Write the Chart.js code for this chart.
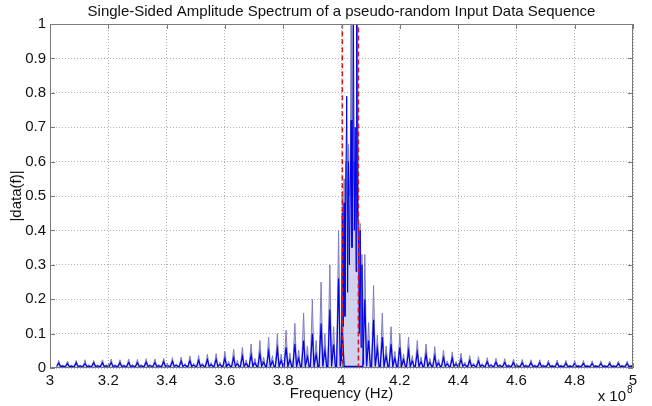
<!DOCTYPE html>
<html>
<head>
<meta charset="utf-8">
<script src="https://cdn.jsdelivr.net/npm/chart.js@4.4.0/dist/chart.umd.min.js"></script>
<style>
body { margin: 0; background: #fff; }
</style>
</head>
<body>
<canvas id="spectrum" width="652" height="406"></canvas>
<script>
// frequency axis is in units of 1e8 Hz
var spikeFreq = [3.03, 3.06, 3.09, 3.12, 3.15, 3.18, 3.21, 3.24, 3.27, 3.30, 3.33, 3.36, 3.39, 3.42, 3.45, 3.48, 3.51,
	3.54, 3.57, 3.60, 3.63, 3.66, 3.69, 3.72, 3.75, 3.78, 3.81, 3.84, 3.87, 3.90, 3.93, 3.96, 3.99,
	4.08, 4.11, 4.14, 4.17, 4.20, 4.23, 4.26, 4.29, 4.32, 4.35, 4.38, 4.41, 4.44, 4.47, 4.50, 4.53,
	4.56, 4.59, 4.62, 4.65, 4.68, 4.71, 4.74, 4.77, 4.80, 4.83, 4.86, 4.89, 4.92, 4.95, 4.98];
var lavPeak = [0.022, 0.02, 0.022, 0.024, 0.022, 0.024, 0.026, 0.024, 0.026, 0.025, 0.027, 0.026, 0.028, 0.03, 0.032, 0.035, 0.036,
	0.04, 0.042, 0.048, 0.055, 0.06, 0.07, 0.08, 0.09, 0.1, 0.11, 0.13, 0.16, 0.2, 0.25, 0.3, 0.4,
	0.33, 0.24, 0.16, 0.12, 0.1, 0.09, 0.08, 0.07, 0.062, 0.052, 0.047, 0.043, 0.036, 0.033, 0.03, 0.028,
	0.027, 0.026, 0.025, 0.024, 0.024, 0.023, 0.023, 0.022, 0.022, 0.022, 0.021, 0.021, 0.02, 0.02, 0.02];
var bluePeak = [0.014, 0.013, 0.015, 0.013, 0.015, 0.015, 0.016, 0.015, 0.016, 0.015, 0.017, 0.016, 0.018, 0.019, 0.02, 0.021, 0.022,
	0.024, 0.025, 0.028, 0.03, 0.034, 0.038, 0.042, 0.048, 0.055, 0.06, 0.07, 0.08, 0.1, 0.13, 0.17, 0.26,
	0.2, 0.14, 0.09, 0.07, 0.06, 0.05, 0.045, 0.04, 0.035, 0.03, 0.028, 0.025, 0.022, 0.02, 0.018, 0.017,
	0.016, 0.016, 0.015, 0.015, 0.015, 0.014, 0.014, 0.014, 0.013, 0.013, 0.013, 0.013, 0.013, 0.013, 0.013];

var centerFreq = [4.000, 4.003, 4.006, 4.009, 4.012, 4.015, 4.018, 4.021, 4.024, 4.027, 4.030, 4.033, 4.036, 4.039,
	4.041, 4.044, 4.047, 4.050, 4.052, 4.055, 4.058, 4.061, 4.064, 4.067, 4.070, 4.073, 4.076];
var centerLav = [0.03, 0.5, 0.3, 0.55, 0.35, 0.6, 0.5, 0.45, 0.65, 0.5, 0.55, 1.05, 0.5, 0.55,
	0.6, 0.5, 0.6, 0.5, 0.6, 1.05, 0.45, 0.35, 0.42, 0.25, 0.33, 0.15, 0.02];
var centerBlue = [0.02, 0.45, 0.12, 0.48, 0.15, 0.55, 0.79, 0.22, 0.6, 0.3, 0.5, 0.72, 0.35, 0.6,
	1.05, 0.4, 0.7, 0.28, 1.05, 0.45, 0.38, 0.1, 0.4, 0.06, 0.3, 0.1, 0.01];

var maskFreq = [3, 4.003, 4.003, 4.058, 4.058, 5];
var maskAmp = [0, 0, 1, 1, 0, 0];

var xTicks = [3, 3.2, 3.4, 3.6, 3.8, 4, 4.2, 4.4, 4.6, 4.8, 5];
var xLabels = ['3', '3.2', '3.4', '3.6', '3.8', '4', '4.2', '4.4', '4.6', '4.8', '5'];
var yTicks = [0, 0.1, 0.2, 0.3, 0.4, 0.5, 0.6, 0.7, 0.8, 0.9, 1];
var yLabels = ['0', '0.1', '0.2', '0.3', '0.4', '0.5', '0.6', '0.7', '0.8', '0.9', '1'];

var FONT = '"Liberation Sans", Arial, sans-serif';

function spikePoints(peaks, floor) {
	var pts = [];
	for (var i = 0; i < spikeFreq.length; i++) {
		var f = spikeFreq[i], p = peaks[i];
		pts.push({x: f - 0.007, y: floor});
		pts.push({x: f, y: p});
		pts.push({x: f + 0.006, y: floor});
		pts.push({x: f + 0.013, y: p * 0.4});
		pts.push({x: f + 0.019, y: floor});
	}
	return pts;
}

function pairs(xs, ys) {
	return xs.map(function (x, i) { return {x: x, y: ys[i]}; });
}

var frame = {
	id: 'frame',
	afterDraw: function (chart) {
		var ctx = chart.ctx, a = chart.chartArea;
		var xs = chart.scales.x, ys = chart.scales.y;
		ctx.save();
		ctx.strokeStyle = '#7a7a7a';
		ctx.lineWidth = 1;
		ctx.strokeRect(a.left + 0.5, a.top + 0.5, a.right - a.left - 1, a.bottom - a.top - 1);
		ctx.beginPath();
		xTicks.forEach(function (v) {
			var px = Math.round(xs.getPixelForValue(v)) + 0.5;
			ctx.moveTo(px, a.bottom); ctx.lineTo(px, a.bottom - 5);
			ctx.moveTo(px, a.top); ctx.lineTo(px, a.top + 5);
		});
		yTicks.forEach(function (v) {
			var py = Math.round(ys.getPixelForValue(v)) + 0.5;
			ctx.moveTo(a.left, py); ctx.lineTo(a.left + 5, py);
			ctx.moveTo(a.right, py); ctx.lineTo(a.right - 5, py);
		});
		ctx.stroke();

		ctx.fillStyle = '#111';
		ctx.font = '15px ' + FONT;
		ctx.textAlign = 'center';
		ctx.textBaseline = 'middle';
		ctx.fillText('Single-Sided Amplitude Spectrum of a pseudo-random Input Data Sequence', (a.left + a.right) / 2, 12);
		ctx.fillText('Frequency (Hz)', (a.left + a.right) / 2, 394);
		ctx.save();
		ctx.translate(17, (a.top + a.bottom) / 2);
		ctx.rotate(-Math.PI / 2);
		ctx.fillText('|data(f)|', 0, 0);
		ctx.restore();
		ctx.textAlign = 'right';
		ctx.fillText('x 10', 626, 397);
		ctx.font = '10px ' + FONT;
		ctx.textAlign = 'left';
		ctx.fillText('8', 627, 390);
		ctx.restore();
	}
};

var config = {
	type: 'line',
	data: {
		datasets: [{
			data: pairs(maskFreq, maskAmp),
			borderColor: '#d01818',
			borderWidth: 1.5,
			borderDash: [5, 3],
			pointRadius: 0,
			order: 0
		}, {
			data: pairs(centerFreq, centerBlue),
			borderColor: 'rgb(0,0,235)',
			borderWidth: 1,
			pointRadius: 0,
			order: 1
		}, {
			data: spikePoints(bluePeak, 0.005),
			borderColor: 'rgb(0,0,235)',
			borderWidth: 1.2,
			pointRadius: 0,
			order: 2
		}, {
			data: pairs(centerFreq, centerLav),
			borderColor: 'rgb(125,125,195)',
			backgroundColor: 'rgba(165,165,220,0.5)',
			fill: 'origin',
			borderWidth: 1,
			pointRadius: 0,
			order: 3
		}, {
			data: spikePoints(lavPeak, 0.003),
			borderColor: 'rgb(125,125,195)',
			backgroundColor: 'rgba(165,165,220,0.5)',
			fill: 'origin',
			borderWidth: 1,
			pointRadius: 0,
			order: 4
		}]
	},
	options: {
		responsive: false,
		animation: false,
		devicePixelRatio: 1,
		layout: {
			padding: {left: 0, right: 19, top: 24, bottom: 0}
		},
		plugins: {
			legend: {display: false},
			tooltip: {enabled: false},
			title: {display: false}
		},
		scales: {
			x: {
				type: 'linear',
				min: 3,
				max: 5,
				afterBuildTicks: function (s) { s.ticks = xTicks.map(function (v) { return {value: v}; }); },
				afterFit: function (s) { s.height = 38; },
				ticks: {
					autoSkip: false,
					maxRotation: 0,
					padding: 4,
					color: '#111',
					font: {size: 15, family: FONT},
					callback: function (v, i) { return xLabels[i]; }
				},
				grid: {color: '#b0b0b0', drawTicks: false},
				border: {display: false, dash: [1, 2]}
			},
			y: {
				min: 0,
				max: 1,
				afterBuildTicks: function (s) { s.ticks = yTicks.map(function (v) { return {value: v}; }); },
				afterFit: function (s) { s.width = 50; },
				ticks: {
					padding: 4,
					color: '#111',
					font: {size: 15, family: FONT},
					callback: function (v, i) { return yLabels[i]; }
				},
				grid: {color: '#b0b0b0', drawTicks: false},
				border: {display: false, dash: [1, 2]}
			}
		}
	},
	plugins: [frame]
};

var chart = new Chart(document.getElementById('spectrum'), config);
</script>
</body>
</html>
